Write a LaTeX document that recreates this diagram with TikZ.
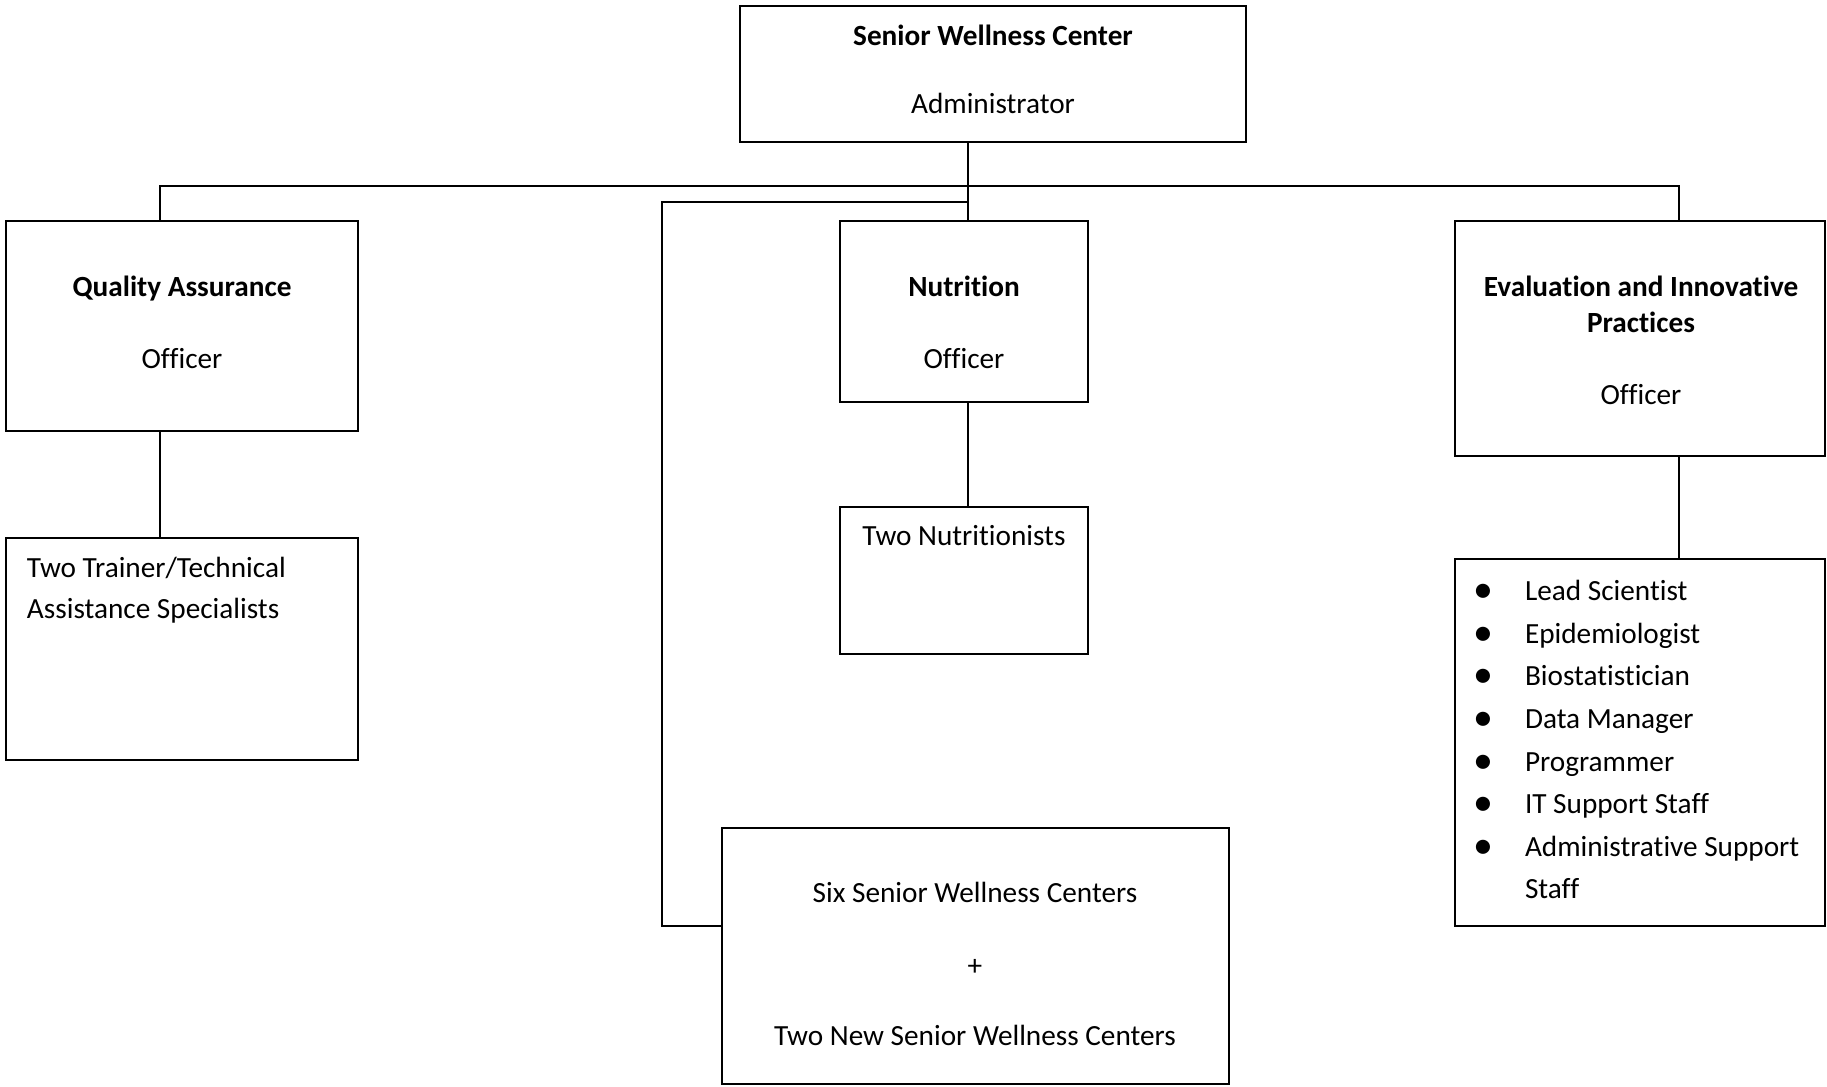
\documentclass[tikz,border=0pt]{standalone}
\usepackage{fontspec}
\setmainfont{Carlito}[Ligatures=NoCommon]
\usetikzlibrary{positioning}

\begin{document}
\begin{tikzpicture}[x=0.376pt,y=-0.376pt,line width=0.75pt,
   box/.style n args={2}{draw, rectangle, inner sep=0pt,
      minimum width=#1*0.376pt, minimum height=#2*0.376pt},
   txt/.style={inner sep=0pt, anchor=base, font=\fontsize{11}{13.4}\selectfont},
   head/.style={txt, font=\fontsize{11}{13.4}\selectfont\bfseries}]
   \useasboundingbox (0,0) rectangle (1827,1086);

   % boxes
   \node[box={506}{136}] (swc)       at (993,74)     {};
   \node[box={352}{210}] (qa)        at (182,326)    {};
   \node[box={352}{222}] (qa_staff)  at (182,649)    {};
   \node[box={248}{181}] (nut)       at (964,311.5)  {};
   \node[box={248}{147}] (nut_staff) at (964,580.5)  {};
   \node[box={507}{256}] (centers)   at (975.5,956)  {};
   \node[box={370}{235}] (eip)       at (1640,338.5) {};
   \node[box={370}{367}] (eip_staff) at (1640,742.5) {};

   % texts
   \node[head] (swc_t1) at (993,45)  {Senior Wellness Center};
   \node[txt]  (swc_t2) at (993,113) {Administrator};

   \node[head] (qa_t1) at (182,296) {Quality Assurance};
   \node[txt]  (qa_t2) at (182,368) {Officer};
   \node[txt, anchor=base west] (qa_s1) at (26,577) {Two Trainer/Technical};
   \node[txt, anchor=base west] (qa_s2) at (26,618) {Assistance Specialists};

   \node[head] (nut_t1) at (964,296) {Nutrition};
   \node[txt]  (nut_t2) at (964,368) {Officer};
   \node[txt]  (nut_s1) at (964,545) {Two Nutritionists};

   \node[txt] (centers_t1) at (975,902)  {Six Senior Wellness Centers};
   \node[txt] (centers_t2) at (975,975)  {+};
   \node[txt] (centers_t3) at (975,1045) {Two New Senior Wellness Centers};

   \node[head] (eip_t1) at (1641,296) {Evaluation and Innovative};
   \node[head] (eip_t2) at (1641,332) {Practices};
   \node[txt]  (eip_t3) at (1641,404) {Officer};

   \foreach \role/\y [count=\i] in {Lead Scientist/600, Epidemiologist/643,
         Biostatistician/685, Data Manager/728, Programmer/771,
         IT Support Staff/813, Administrative Support/856} {
      \node[txt, font=\fontsize{15}{15}\selectfont] (eip_b\i) at (1483,\y+2) {\textbullet};
      \node[txt, anchor=base west] (eip_s\i) at (1524,\y) {\role};
   }
   \node[txt, anchor=base west] (eip_s8) at (1524,898) {Staff};

   % connectors
   \coordinate (bus)      at (968,186);
   \coordinate (qa_x)     at (160,0);
   \coordinate (eip_x)    at (1679,0);
   \coordinate (loop)     at (662,202);
   \coordinate (loop_low) at (662,926);

   \draw (swc.south -| bus) -- (nut.north -| bus);
   \draw (qa.north -| qa_x) |- (bus) -| (eip.north -| eip_x);
   \draw (bus |- loop) -- (loop) -- (loop_low) -- (centers.west |- loop_low);
   \draw (qa.south -| qa_x) -- (qa_staff.north -| qa_x);
   \draw (nut.south -| bus) -- (nut_staff.north -| bus);
   \draw (eip.south -| eip_x) -- (eip_staff.north -| eip_x);
\end{tikzpicture}
\end{document}
